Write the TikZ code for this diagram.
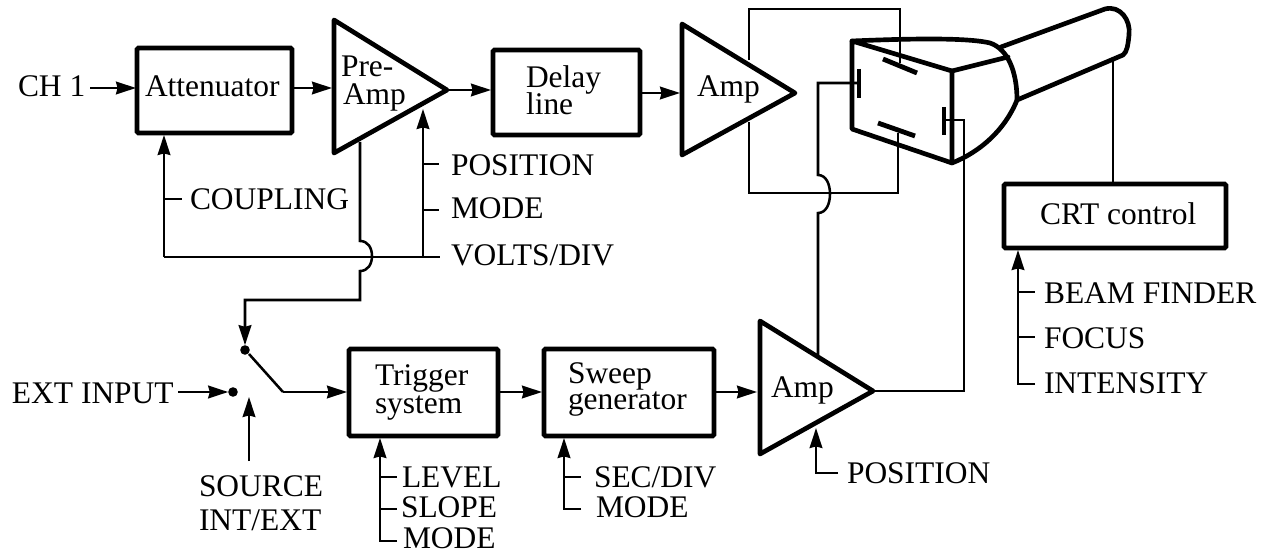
\documentclass[tikz,border=0pt]{standalone}
\usepackage{fontspec}
\setmainfont{Liberation Serif}
\usetikzlibrary{arrows.meta}
\newcommand{\placetxt}[3]{\rlap{\hspace*{\dimexpr#1pt*3/4\relax}\smash{\raisebox{\dimexpr-#2pt*3/4\relax}{#3}}}}
\tikzset{
  blockbox/.style={draw,line width=3.5pt,rounded corners=1pt,inner sep=0pt,outer sep=0pt,anchor=center},
  tube/.style={line width=3.5pt,line join=round,line cap=round},
  wire/.style={line width=1.9pt,line join=miter},
  conn/.style={wire,-{Stealth[length=15pt,width=9.5pt,inset=1.2pt]},shorten >=0pt},
  lab/.style={anchor=base west,inner sep=0pt,outer sep=0pt},
  dotnode/.style={circle,fill=black,inner sep=0pt,minimum size=7.2pt,outer sep=0pt},
}
\begin{document}
\begin{tikzpicture}[x=0.75pt,y=-0.75pt,font=\fontsize{23.6}{28}\selectfont]
\useasboundingbox (0,0) rectangle (1266,552);
% blocks
\node[blockbox,minimum width=116.25pt,minimum height=63.75pt] (att) at (214.5,90.5) {\placetxt{-69.5}{6.5}{Attenuator}};
\node[blockbox,minimum width=110.25pt,minimum height=63.75pt] (delay) at (566.5,92.5) {\placetxt{-40.5}{-4.5}{Delay}\placetxt{-40.5}{22.5}{line}};
\node[blockbox,minimum width=111.75pt,minimum height=65.25pt] (trig) at (423.5,392.5) {\placetxt{-48.5}{-7.5}{Trigger}\placetxt{-48.5}{20.5}{system}};
\node[blockbox,minimum width=127.5pt,minimum height=65.25pt] (sweep) at (629,392.5) {\placetxt{-61}{-9.5}{Sweep}\placetxt{-61}{16.5}{generator}};
\node[blockbox,minimum width=166.5pt,minimum height=48pt] (crt) at (1115,216) {\placetxt{-75}{9}{CRT control}};
% triangles
\coordinate (paT) at (334,20); \coordinate (paB) at (334,153); \coordinate (paO) at (447,90);
\coordinate (a1T) at (682,24); \coordinate (a1B) at (682,155); \coordinate (a1O) at (795,93);
\coordinate (a2T) at (760,321); \coordinate (a2B) at (760,454); \coordinate (a2O) at (873,391);
\draw[tube] (paT) -- (paB) -- (paO) -- cycle;
\draw[tube] (a1T) -- (a1B) -- (a1O) -- cycle;
\draw[tube] (a2T) -- (a2B) -- (a2O) -- cycle;
\node[lab] (tpre) at (341,77) {Pre-};
\node[lab] (tamp) at (343,105) {Amp};
\node[lab] (tamp1) at (697,97) {Amp};
\node[lab] (tamp2) at (771,397) {Amp};
% CRT
\coordinate (c1) at (852,41); \coordinate (c2) at (852,129); \coordinate (c3) at (952,163); \coordinate (c4) at (952,71);
\coordinate (c5) at (1017,100); \coordinate (c6) at (1001,47); \coordinate (c7) at (1008,57);
\coordinate (c8) at (1105,9); \coordinate (c9) at (1123,55);
\draw[tube] (c1) -- (c2) -- (c3) -- (c4) -- cycle;
\draw[tube] (c1) .. controls (900,39) and (965,37) .. (990,43) .. controls (1008,49) and (1017,72) .. (c5) .. controls (1005,130) and (980,152) .. (c3);
\draw[tube] (c4) -- (c7);
\draw[tube] (c6) -- (c8) .. controls (1120,5) and (1131,20) .. (1129,35) .. controls (1128,45) and (1127,52) .. (c9) -- (c5);
% plates
\coordinate (plL1) at (859,69); \coordinate (plL2) at (859,98); \coordinate (plLm) at (859,83);
\coordinate (plT1) at (883,59); \coordinate (plT2) at (917,73); \coordinate (plTm) at (900,63);
\coordinate (plB1) at (878,123); \coordinate (plB2) at (915,136); \coordinate (plBm) at (898,133);
\coordinate (plR1) at (944,107); \coordinate (plR2) at (944,135); \coordinate (plRm) at (944,120);
\draw[line width=3.6pt] (plL1) -- (plL2);
\draw[line width=3.6pt] (plT1) -- (plT2);
\draw[line width=3.6pt] (plB1) -- (plB2);
\draw[line width=3.6pt] (plR1) -- (plR2);
% wires around the CRT
\coordinate (a1u) at (749,60); \coordinate (a1l) at (749,122);
\draw[wire] (a1u) -- (749,9) -- (900,9) -- (plTm);
\draw[wire] (a1l) -- (749,193) -- (898,193) -- (plBm);
\coordinate (a2u) at (818,355);
\draw[wire] (a2u) -- (818,213) .. controls (826,213) and (830,204) .. (830,194) .. controls (830,184) and (826,175) .. (818,175) -- (818,83) -- (plLm);
\draw[wire] (plRm) -- (964,120) -- (964,391) -- (a2O);
\draw[wire] (crt.north -| 1113,0) -- (1113,60);
% signal path
\node[lab] (ch1) at (18,97) {CH 1};
\coordinate (ch1e) at (90,88); \coordinate (attW) at (136,88); \coordinate (attE) at (293,88); \coordinate (paI) at (332,88);
\coordinate (delW) at (491,90); \coordinate (delE) at (641,93); \coordinate (a1I) at (680,93); \coordinate (a2I) at (757,392);
\draw[conn] (ch1e) -- (attW);
\draw[conn] (attE) -- (paI);
\draw[conn] (paO) -- (delW);
\draw[conn] (delE) -- (a1I);
% coupling / volts
\coordinate (attS) at (164,135); \coordinate (paS) at (423,109);
\draw[conn] (164,257) -- (attS);
\draw[conn] (423,257) -- (paS);
\draw[wire] (164,257) -- (440,257);
\draw[wire] (164,199) -- (182,199);
\draw[wire] (423,164) -- (439,164);
\draw[wire] (423,210) -- (439,210);
\node[lab] (lcoup) at (190,210) {COUPLING};
\node[lab] (lpos) at (451,176) {POSITION};
\node[lab] (lmode) at (451,219) {MODE};
\node[lab] (lvolts) at (451,266) {VOLTS/DIV};
% switch
\node[dotnode] (dA) at (245,350) {};
\node[dotnode] (dB) at (233,392) {};
\coordinate (pa2) at (360,142);
\draw[conn] (pa2) -- (360,241) .. controls (368,241) and (372,248) .. (372,256) .. controls (372,264) and (368,271) .. (360,271) -- (360,300) -- (245,300) -- (dA);
\coordinate (blade) at (283,392);
\coordinate (bladeS) at (249,354);
\draw[wire] (bladeS) -- (blade);
\draw[conn] (blade) -- (347,392);
\node[lab] (lext) at (12,403) {EXT INPUT};
\coordinate (exts) at (178,392);
\draw[conn] (exts) -- (dB);
\coordinate (srcS) at (249,461); \coordinate (srcE) at (249,397);
\draw[conn] (srcS) -- (srcE);
\node[lab] (lsrc) at (199,496) {SOURCE};
\node[lab] (lint) at (199,530) {INT/EXT};
% trigger
\draw[conn] (trig.east |- blade) -- (542,392);
\draw[conn] (sweep.east |- blade) -- (a2I);
\draw[conn] (397,541) -- (380,541) -- (380,438);
\draw[wire] (380,477) -- (397,477);
\draw[wire] (380,509) -- (397,509);
\node[lab] (llev) at (402,487) {LEVEL};
\node[lab] (lslo) at (401,517) {SLOPE};
\node[lab] (lmo2) at (403,548) {MODE};
\draw[conn] (581,509) -- (564,509) -- (564,438);
\draw[wire] (564,477) -- (581,477);
\node[lab] (lsec) at (594,487) {SEC/DIV};
\node[lab] (lmo3) at (596,517) {MODE};
% amp2 position
\draw[conn] (838,473) -- (816,473) -- (816,428);
\node[lab] (lpos2) at (847,483) {POSITION};
% crt control
\draw[conn] (1035,384) -- (1018,384) -- (1018,250);
\draw[wire] (1018,292) -- (1035,292);
\draw[wire] (1018,337) -- (1035,337);
\node[lab] (lbeam) at (1044,303) {BEAM FINDER};
\node[lab] (lfoc) at (1044,348) {FOCUS};
\node[lab] (linten) at (1044,393) {INTENSITY};
\end{tikzpicture}
\end{document}
